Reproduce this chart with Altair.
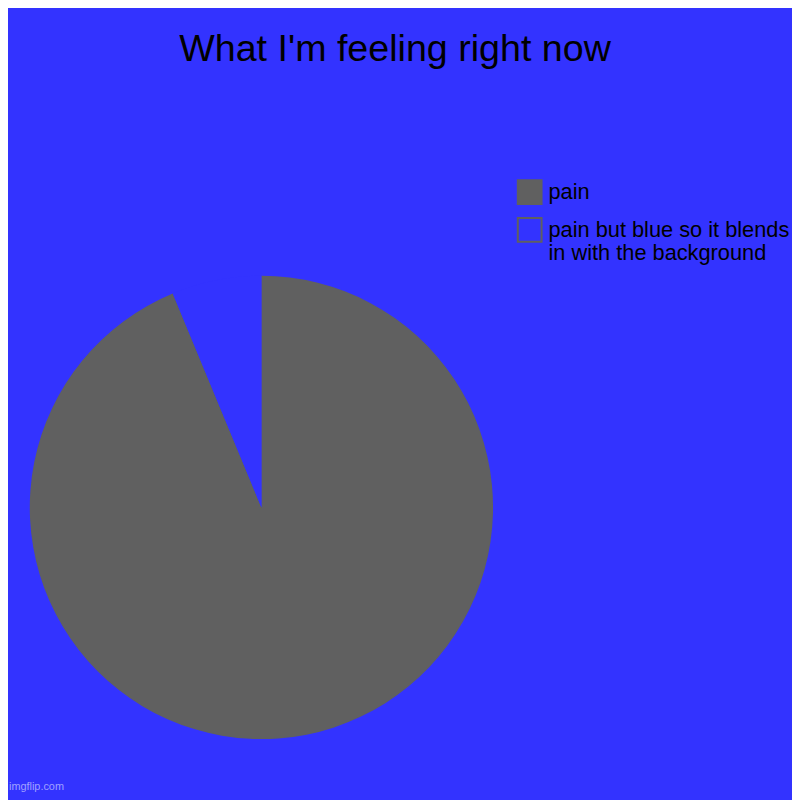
import altair as alt
import pandas as pd

categories = ["pain", "pain but blue so it blends in with the background"]
values = [15, 1]
colors = ["#606060", "#3333FF"]
legend_lines = ["pain but blue so it blends", "in with the background"]
title_text = "What I'm feeling right now"
watermark = ["imgflip.com"]

df = pd.DataFrame({"category": categories, "value": values, "order": [0, 1]})
wm = pd.DataFrame({"t": watermark})

label_expr = (
    f"datum.label == '{categories[1]}' ? ['{legend_lines[0]}', '{legend_lines[1]}'] : datum.label"
)

pie = alt.Chart(df).mark_arc(radius=234).encode(
    theta=alt.Theta("value:Q", stack=True),
    order=alt.Order("order:Q"),
    x=alt.value(256),
    y=alt.value(404.5),
    color=alt.Color(
        "category:N",
        scale=alt.Scale(domain=categories, range=colors),
        legend=alt.Legend(
            title=None,
            orient="none",
            legendX=514,
            legendY=73,
            padding=0,
            symbolType="square",
            symbolSize=576,
            symbolStrokeColor="#606060",
            symbolStrokeWidth=2,
            symbolOpacity=1,
            labelFont="Liberation Sans",
            labelFontSize=22,
            labelColor="#000000",
            labelOffset=6,
            labelLimit=400,
            rowPadding=6,
            labelExpr=label_expr,
        ),
    ),
)

mark_wm = alt.Chart(wm).mark_text(
    font="Liberation Sans", fontSize=11, color="#A0A0FF", align="left", baseline="middle"
).encode(text="t:N", x=alt.value(1), y=alt.value(687))

chart = alt.layer(pie, mark_wm).properties(
    width=792,
    height=696,
    autosize=alt.AutoSizeParams(type="none"),
    padding={"top": 96, "left": 0, "right": 0, "bottom": 0},
    background="#3333FF",
    title=alt.TitleParams(
        title_text,
        font="Liberation Sans",
        fontSize=38,
        fontWeight="normal",
        color="#000000",
        anchor="middle",
        frame="group",
        baseline="alphabetic",
        offset=9,
        dx=-5,
    ),
).configure_view(stroke=None)

chart.save("out.html", embed_options={"renderer": "svg", "actions": False})
